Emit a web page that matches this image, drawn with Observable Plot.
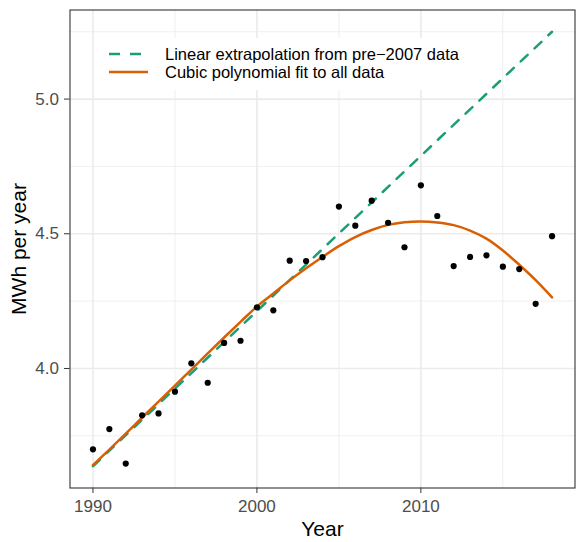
<!DOCTYPE html>
<html>
<head>
<meta charset="utf-8">
<script src="https://cdn.jsdelivr.net/npm/d3@7"></script>
<script src="https://cdn.jsdelivr.net/npm/@observablehq/plot@0.6"></script>
<style>
  body { margin: 0; background: white; }
  #chart { position: relative; width: 581px; height: 542px; }
  #legend { position: absolute; left: 0; top: 0; pointer-events: none; }
</style>
</head>
<body>
<div id="chart"></div>
<script>
// valores
const years = [1990, 1991, 1992, 1993, 1994, 1995, 1996, 1997, 1998, 1999,
  2000, 2001, 2002, 2003, 2004, 2005, 2006, 2007, 2008, 2009,
  2010, 2011, 2012, 2013, 2014, 2015, 2016, 2017, 2018]
const mwh = [3.700, 3.775, 3.647, 3.826, 3.833, 3.914, 4.019, 3.947, 4.095, 4.103,
  4.227, 4.216, 4.400, 4.399, 4.413, 4.601, 4.530, 4.623, 4.541, 4.450,
  4.680, 4.566, 4.380, 4.414, 4.420, 4.378, 4.369, 4.240, 4.491]
// curva cubica (un valor por año)
const cubic = [3.641, 3.699, 3.758, 3.818, 3.877, 3.936, 3.996, 4.056, 4.115, 4.173,
  4.230, 4.278, 4.327, 4.372, 4.414, 4.454, 4.488, 4.514, 4.533, 4.543,
  4.546, 4.542, 4.532, 4.512, 4.482, 4.438, 4.385, 4.328, 4.264]
// recta extrapolada: extremos
const linearYears = [1990, 2018]
const linearVals = [3.637, 5.250]

const xTicks = [1990, 2000, 2010]
const xMinor = [1995, 2005, 2015]
const yTicks = [4.0, 4.5, 5.0]
const yMinor = [3.75, 4.25, 4.75, 5.25]

const legendLabels = ["Linear extrapolation from pre\u22122007 data", "Cubic polynomial fit to all data"]
const green = "#1b9e77"
const orange = "#d95f02"

const points = years.map((y, i) => ({year: y, value: mwh[i]}))
const fit = years.map((y, i) => ({year: y, value: cubic[i]}))
const linear = linearYears.map((y, i) => ({year: y, value: linearVals[i]}))

let chart = Plot.plot({
  width: 581,
  height: 542,
  marginLeft: 69.5,
  marginRight: 6.5,
  marginTop: 9.5,
  marginBottom: 54.5,
  style: {fontFamily: "Liberation Sans, Arial, sans-serif", background: "white"},
  x: {domain: [1988.6, 2019.4]},
  y: {domain: [3.5563, 5.3307]},
  marks: [
    Plot.gridX(xMinor, {stroke: "#ebebeb", strokeOpacity: 1, strokeWidth: 0.8}),
    Plot.gridY(yMinor, {stroke: "#ebebeb", strokeOpacity: 1, strokeWidth: 0.8}),
    Plot.gridX(xTicks, {stroke: "#ebebeb", strokeOpacity: 1, strokeWidth: 1.6}),
    Plot.gridY(yTicks, {stroke: "#ebebeb", strokeOpacity: 1, strokeWidth: 1.6}),
    Plot.line(linear, {x: "year", y: "value", stroke: green, strokeWidth: 2.5, strokeDasharray: "9.5,9.5"}),
    Plot.line(fit, {x: "year", y: "value", stroke: orange, strokeWidth: 2.5, curve: "catmull-rom"}),
    Plot.dot(points, {x: "year", y: "value", r: 3.1, fill: "black", stroke: "none"}),
    Plot.frame({stroke: "#333333", strokeWidth: 1.1}),
    Plot.axisX(xTicks, {tickSize: 5.5, tickPadding: 6.5, fontSize: 17, tickFormat: d3.format("d"), color: "#4d4d4d", stroke: "#333333", label: null}),
    Plot.axisY(yTicks, {tickSize: 5.5, tickPadding: 5.5, fontSize: 17, tickFormat: d3.format(".1f"), color: "#4d4d4d", stroke: "#333333", label: null}),
    Plot.text(["Year"], {frameAnchor: "bottom", lineAnchor: "bottom", dy: 48, fontSize: 21, fill: "black"}),
    Plot.text(["MWh per year"], {frameAnchor: "left", textAnchor: "middle", lineAnchor: "bottom", rotate: -90, dx: -44, fontSize: 21, fill: "black"})
  ]
})

d3.select("#chart").append(() => chart)

// leyenda dentro del panel
const leg = d3.select("#chart").append("svg").attr("id", "legend")
  .attr("width", 581).attr("height", 542)
leg.append("rect").attr("x", 100).attr("y", 38).attr("width", 387).attr("height", 52).attr("fill", "white")
leg.append("line").attr("x1", 109).attr("x2", 146).attr("y1", 54).attr("y2", 54)
  .attr("stroke", green).attr("stroke-width", 2.5).attr("stroke-dasharray", "11,10")
leg.append("line").attr("x1", 109).attr("x2", 148).attr("y1", 72).attr("y2", 72)
  .attr("stroke", orange).attr("stroke-width", 2.5)
leg.selectAll("text.lab").data(legendLabels).join("text")
  .attr("class", "lab")
  .attr("x", 165)
  .attr("y", (d, i) => i == 0 ? 59.8 : 78.2)
  .attr("font-family", "Liberation Sans, Arial, sans-serif")
  .attr("font-size", 16.5)
  .attr("fill", "black")
  .text(d => d)
</script>
</body>
</html>
